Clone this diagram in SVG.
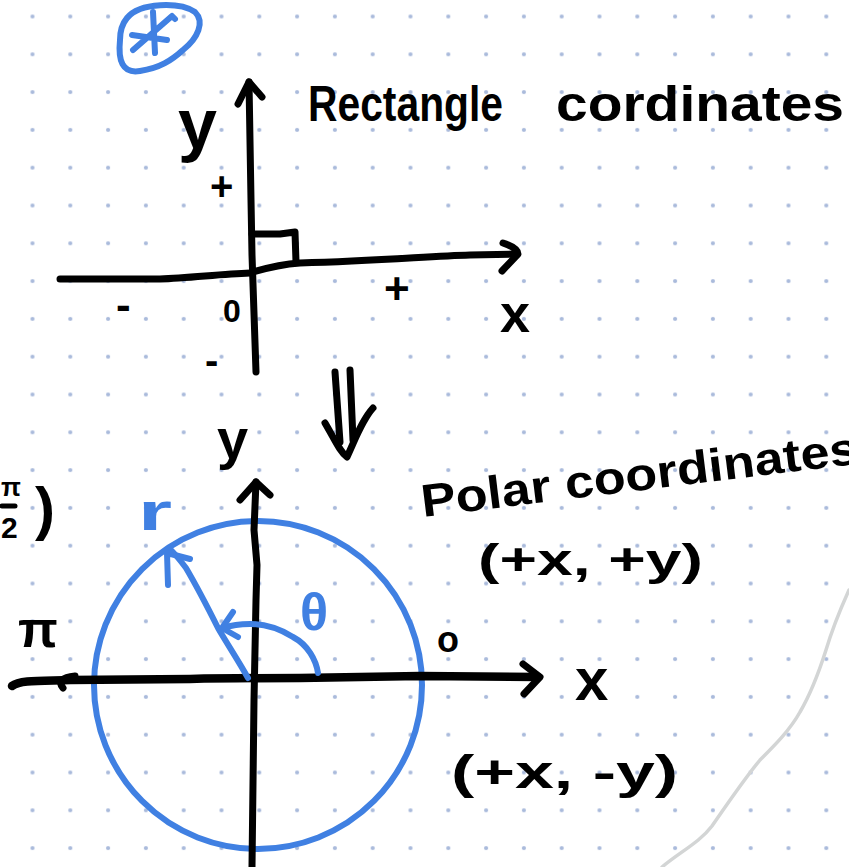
<svg xmlns="http://www.w3.org/2000/svg" width="849" height="867" viewBox="0 0 849 867">
  <defs>
    <pattern id="dots" patternUnits="userSpaceOnUse" x="13.6" y="-2.4" width="37.8" height="37.8">
      <circle cx="18.9" cy="18.9" r="2.1" fill="#a9badb"/>
    </pattern>
  </defs>
  <style>
    .ink { fill: none; stroke: #000; stroke-width: 7; stroke-linecap: round; stroke-linejoin: round; }
    .thick { stroke-width: 8.5; }
    .blue { fill: none; stroke: #4080e2; stroke-width: 6; stroke-linecap: round; stroke-linejoin: round; }
    .hand { font-family: "Liberation Sans", "DejaVu Sans", sans-serif; font-weight: bold; fill: #000; }
    .bluetxt { font-family: "Liberation Sans", "DejaVu Sans", sans-serif; font-weight: bold; fill: #4080e2; }
  </style>

  <rect width="849" height="867" fill="#ffffff"/>
  <rect width="849" height="867" fill="url(#dots)"/>

  <!-- page edge curve -->
  <path id="page-curve" d="M849,590 C840,610 832,630 826,650 C818,675 810,695 800,712 C790,730 775,745 760,760 C745,778 730,800 712,826 C700,842 680,852 662,867" fill="none" stroke="#d3d5d5" stroke-width="3.5" stroke-linecap="round"/>

  <!-- star mark -->
  <g id="star-mark">
    <path class="blue" d="M127,18 C140,2 180,2 195,12 C205,22 198,38 183,50 C172,60 160,68 140,71 C122,74 118,60 120,40 C120,30 122,24 127,18 Z"/>
    <path class="blue" d="M153,12 L155,53 M132,35 L167,40 M133,50 L172,16 L175,19"/>
  </g>

  <!-- rectangular coordinate system -->
  <g id="rect-axes">
    <path class="ink" d="M249,82 L251,200 L252,255 L256,372"/>
    <path class="ink" d="M238,104 L249,82 L262,97"/>
    <path class="ink" d="M60,279 L160,279 C190,278 220,274 250,273 M253,272 C270,267 285,264 300,263 C380,261 430,256 470,255 L516,254"/>
    <path class="ink" d="M503,243 C512,246 518,250 518,254 L502,271"/>
    <path class="ink" d="M252,234 L280,234 L295,232 L296,262"/>
  </g>
  <g id="rect-labels">
    <text class="hand" x="178" y="148" font-size="70">y</text>
    <text class="hand" x="210" y="200" font-size="40">+</text>
    <text class="hand" x="116" y="320" font-size="44">-</text>
    <text class="hand" x="223" y="322" font-size="32">0</text>
    <text class="hand" x="205" y="374" font-size="40">-</text>
    <text class="hand" x="384" y="304" font-size="44">+</text>
    <text class="hand" x="500" y="332" font-size="54">x</text>
  </g>
  <g id="title-rect">
    <text class="hand" y="121" font-size="50"><tspan x="308" textLength="195" lengthAdjust="spacingAndGlyphs">Rectangle</tspan> <tspan x="556" textLength="288" lengthAdjust="spacingAndGlyphs">cordinates</tspan></text>
  </g>

  <!-- polar coordinate system -->
  <g id="polar-circle">
    <circle class="blue" cx="258" cy="685" r="164"/>
  </g>
  <g id="polar-axes">
    <path class="ink" d="M256,482 L254,530 L257,565 L256,600 L254,700 L252,867"/>
    <path class="ink" d="M240,500 L256,482 L270,495"/>
    <path class="ink thick" d="M12,686 C20,680 40,681 70,680 L190,679 C230,678 250,678 300,678 L420,676 L538,677"/>
    <path class="ink" d="M63,688 C58,682 62,677 75,676"/>
    <path class="ink" d="M523,664 L540,677 L524,694"/>
  </g>
  <g id="polar-labels">
    <text class="hand" x="217" y="458" font-size="56">y</text>
    <text class="hand" x="18" y="647" font-size="52">π</text>
    <text class="hand" x="437" y="652" font-size="36">o</text>
    <text class="hand" x="575" y="700" font-size="60">x</text>
    <text class="bluetxt" x="138" y="530" font-size="54" textLength="34" lengthAdjust="spacingAndGlyphs">r</text>
    <text class="bluetxt" x="300" y="630" font-size="52">θ</text>
  </g>
  <g id="polar-title">
    <text class="hand" x="423" y="517" font-size="46" transform="rotate(-7 423 517)" textLength="440" lengthAdjust="spacingAndGlyphs">Polar coordinates</text>
    <text class="hand" x="478" y="575" font-size="44" textLength="225" lengthAdjust="spacingAndGlyphs">(+x, +y)</text>
    <text class="hand" x="451" y="788" font-size="46" textLength="227" lengthAdjust="spacingAndGlyphs">(+x, -y)</text>
  </g>
  <g id="edge-fraction">
    <text class="hand" x="1" y="496" font-size="26">π</text>
    <path class="ink" d="M2,506 L15,506" style="stroke-width:5"/>
    <text class="hand" x="1" y="538" font-size="30">2</text>
    <text class="hand" x="35" y="529" font-size="60">)</text>
  </g>

  <!-- connectors -->
  <g id="connectors">
    <path class="ink" d="M335,372 L340,442 M350,370 L353,440"/>
    <path class="ink" d="M325,423 C335,440 340,452 347,457 C355,440 362,420 373,408"/>
    <path class="blue" d="M248,678 C238,660 226,642 218,628 C208,608 196,585 186,568 C180,560 175,554 170,549"/>
    <path class="blue" d="M168,585 L167,553 L190,559"/>
    <path class="blue" d="M318,673 C316,660 308,645 293,637 C280,629 265,624 250,624 C240,624 232,625 223,628"/>
    <path class="blue" d="M233,612 L222,628 L238,637"/>
  </g>
</svg>
